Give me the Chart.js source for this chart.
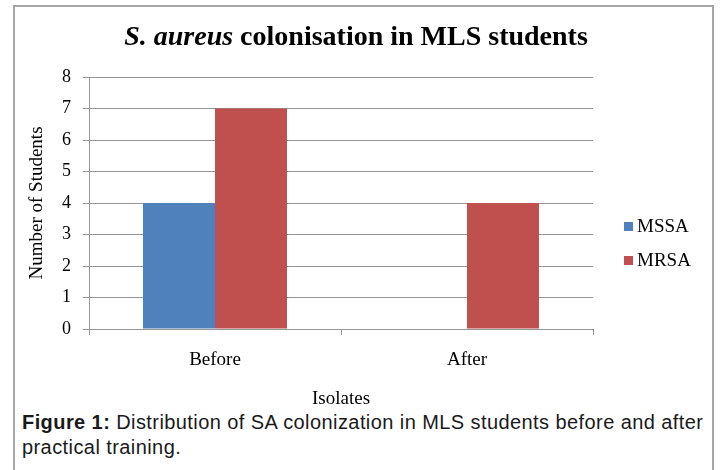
<!DOCTYPE html>
<html>
<head>
<meta charset="utf-8">
<title>S. aureus colonisation in MLS students</title>
<script src="https://cdn.jsdelivr.net/npm/chart.js@4.4.0/dist/chart.umd.min.js"></script>
<style>
    html, body { margin: 0; padding: 0; background: #fff; }
    #wrap { position: relative; width: 721px; height: 470px; overflow: hidden; }
    #frame {
        position: absolute; left: 13px; top: 5px; width: 697px; height: 480px;
        border: 2px solid #a6a6a6; border-bottom: none;
    }
    #chart { position: absolute; left: 0; top: 0; }
    #caption {
        position: absolute; left: 22px; top: 410px; width: 690px;
        font-family: 'Liberation Sans', Arial, sans-serif; font-size: 20px;
        letter-spacing: 0.42px; line-height: 25px; color: #1a1a1a;
    }
</style>
</head>
<body>
<div id="wrap">
    <div id="frame"></div>
    <canvas id="chart" width="721" height="410"></canvas>
    <div id="caption"><b>Figure 1:</b> Distribution of SA colonization in MLS students before and after practical training.</div>
</div>
<script>
const categories = ['Before', 'After'];
const mssaValues = [4, 0];
const mrsaValues = [7, 4];
const yMin = 0;
const yMax = 8;
const yStep = 1;

const serif = "'Liberation Serif', 'Times New Roman', serif";
const gridColor = '#959595';

// title with the italic species name
const titlePlugin = {
    id: 'mixedTitle',
    afterDraw(chart) {
        const ctx = chart.ctx;
        const parts = [
            { text: 'S. aureus', font: 'italic bold 28px ' + serif },
            { text: ' colonisation in MLS students', font: 'bold 28px ' + serif }
        ];
        ctx.save();
        let total = 0;
        parts.forEach(p => { ctx.font = p.font; p.w = ctx.measureText(p.text).width; total += p.w; });
        let x = 356 - total / 2;
        ctx.fillStyle = '#000';
        ctx.textBaseline = 'middle';
        parts.forEach(p => { ctx.font = p.font; ctx.fillText(p.text, x, 38); x += p.w; });
        ctx.restore();
    }
};

// legend on the right, Excel style
const legendPlugin = {
    id: 'sideLegend',
    afterDraw(chart) {
        const ctx = chart.ctx;
        ctx.save();
        ctx.font = '19px ' + serif;
        ctx.textBaseline = 'middle';
        chart.data.datasets.forEach((ds, i) => {
            const y = 226.5 + i * 34;
            ctx.fillStyle = ds.backgroundColor;
            ctx.fillRect(624, y - 4.5, 9, 9);
            ctx.fillStyle = '#000';
            ctx.fillText(ds.label, 637, y + 1);
        });
        ctx.restore();
    }
};

new Chart(document.getElementById('chart'), {
    type: 'bar',
    data: {
        labels: categories,
        datasets: [
            { label: 'MSSA', data: mssaValues, backgroundColor: '#4f81bd', borderWidth: 0 },
            { label: 'MRSA', data: mrsaValues, backgroundColor: '#c0504d', borderWidth: 0 }
        ]
    },
    options: {
        responsive: false,
        animation: false,
        layout: { padding: { left: 26, right: 128, top: 77, bottom: 0 } },
        datasets: { bar: { categoryPercentage: 4 / 7, barPercentage: 1 } },
        plugins: {
            legend: { display: false },
            title: { display: false },
            tooltip: { enabled: false }
        },
        scales: {
            x: {
                afterFit(scale) { scale.height = 81; },
                grid: { offset: true, drawOnChartArea: false, color: gridColor, tickLength: 6 },
                border: { color: gridColor },
                ticks: { color: '#000', font: { family: serif, size: 19 }, padding: 14 },
                title: { display: true, text: 'Isolates', color: '#000', font: { family: serif, size: 19 }, padding: 0 }
            },
            y: {
                min: yMin,
                max: yMax,
                afterFit(scale) { scale.width = 89 - 26; },
                grid: { color: gridColor, tickLength: 6 },
                border: { color: gridColor },
                ticks: { stepSize: yStep, color: '#000', font: { family: serif, size: 18 }, padding: 12 },
                title: { display: true, text: 'Number of Students', color: '#000', font: { family: serif, size: 19 }, padding: 0 }
            }
        }
    },
    plugins: [titlePlugin, legendPlugin]
});
</script>
</body>
</html>
